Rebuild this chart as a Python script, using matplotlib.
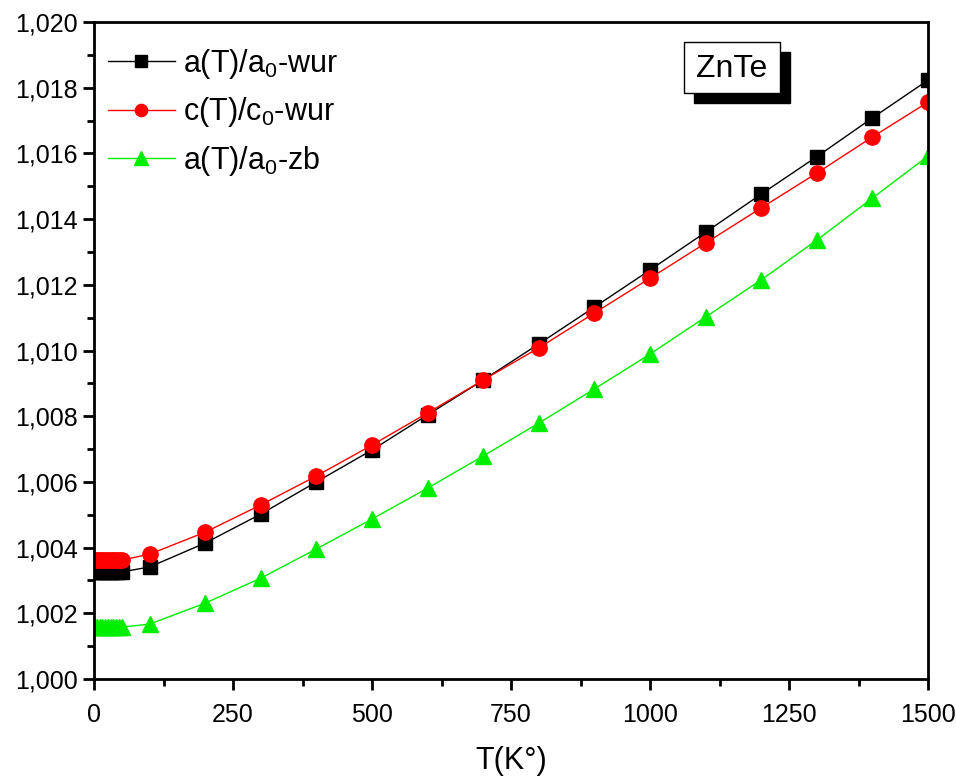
import numpy as np
import matplotlib.pyplot as plt
from matplotlib.patches import Rectangle
from matplotlib.ticker import MultipleLocator, FuncFormatter

plt.rcParams['font.family'] = ['Liberation Sans', 'DejaVu Sans']
plt.rcParams['mathtext.fontset'] = 'custom'
plt.rcParams['mathtext.rm'] = 'Liberation Sans'
plt.rcParams['mathtext.it'] = 'Liberation Sans'

##### data
T = [1, 5, 10, 15, 20, 25, 30, 35, 40, 45, 50,
     100, 200, 300, 400, 500, 600, 700, 800, 900, 1000, 1100, 1200, 1300, 1400, 1500]
a_wur = [1.00326]*11 + [1.00341, 1.00414, 1.00502, 1.00600, 1.00697, 1.00804, 1.00910,
                        1.01020, 1.01132, 1.01245, 1.01360, 1.01476, 1.01590, 1.01708, 1.01823]
c_wur = [1.00362]*11 + [1.00380, 1.00447, 1.00530, 1.00618, 1.00712, 1.00810, 1.00910,
                        1.01008, 1.01114, 1.01220, 1.01327, 1.01434, 1.01540, 1.01650, 1.01756]
a_zb = [1.00158]*11 + [1.00167, 1.00231, 1.00307, 1.00396, 1.00487, 1.00581, 1.00679,
                       1.00779, 1.00883, 1.00989, 1.01102, 1.01215, 1.01336, 1.01464, 1.01592]
#####

fig = plt.figure(figsize=(9.56, 7.80), dpi=100)
ax = fig.add_axes([94/956, 1 - 679/780, (928-94)/956, (679-22)/780])

ax.plot(T, a_wur, color='black', lw=1, marker='s', ms=10, label=r'a(T)/a$_0$-wur')
ax.plot(T, c_wur, color='red', lw=1, marker='o', ms=11, label=r'c(T)/c$_0$-wur')
ax.plot(T, a_zb, color='#00ee00', lw=1, marker='^', ms=12, label=r'a(T)/a$_0$-zb')

ax.set_xlim(0, 1500)
ax.set_ylim(1.000, 1.020)
ax.xaxis.set_major_locator(MultipleLocator(250))
ax.xaxis.set_minor_locator(MultipleLocator(125))
ax.yaxis.set_major_locator(MultipleLocator(0.002))
ax.yaxis.set_minor_locator(MultipleLocator(0.001))
ax.yaxis.set_major_formatter(FuncFormatter(lambda v, p: f'{v:.3f}'.replace('.', ',')))
ax.tick_params(which='major', direction='out', length=8, width=2, labelsize=18)
ax.tick_params(axis='x', which='major', pad=9)
ax.tick_params(which='minor', direction='out', length=5, width=2)
for s in ax.spines.values():
    s.set_linewidth(2)

ax.set_xlabel('T(K°)', fontsize=22, labelpad=14)

ax.legend(loc='upper left', bbox_to_anchor=(0.0, 0.983), frameon=False, fontsize=22,
          handlelength=2.2, handletextpad=0.25, borderaxespad=0.05, labelspacing=0.47,
          markerscale=0.8)

# ZnTe label with shadow
ax.add_patch(Rectangle((0.719, 0.877), 0.116, 0.077, transform=ax.transAxes,
                       fc='black', ec='black', zorder=4))
ax.add_patch(Rectangle((0.707, 0.892), 0.116, 0.077, transform=ax.transAxes,
                       fc='white', ec='black', lw=1, zorder=5))
ax.text(0.765, 0.929, 'ZnTe', transform=ax.transAxes, fontsize=23,
        ha='center', va='center', zorder=6)

plt.savefig('out.png', dpi=100)
